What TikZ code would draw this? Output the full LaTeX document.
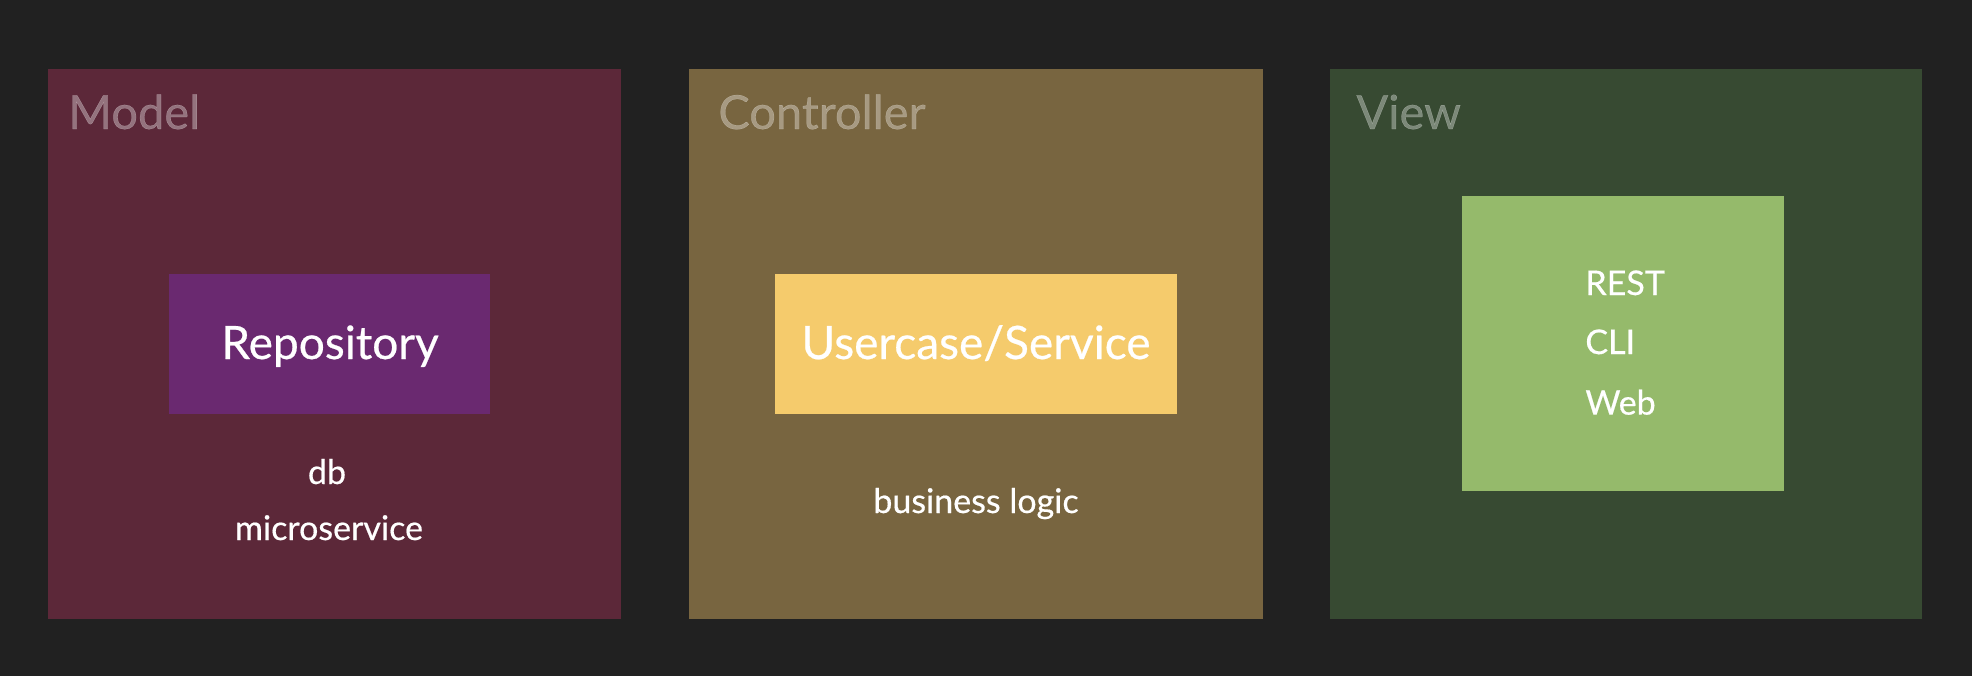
\documentclass[tikz,border=0pt]{standalone}
\usepackage{fontspec}
\setmainfont{Lato}
\newfontfamily\medfont[FakeBold=0.5]{Lato}
\definecolor{bgdark}{HTML}{212121}
\definecolor{modelbg}{HTML}{5C2839}
\definecolor{ctrlbg}{HTML}{786540}
\definecolor{viewbg}{HTML}{374A32}
\definecolor{repofill}{HTML}{6A2970}
\definecolor{svcfill}{HTML}{F5CB6C}
\definecolor{webfill}{HTML}{95BA6B}
\begin{document}
\begin{tikzpicture}[x=0.5pt,y=-0.5pt,
  panel/.style={rectangle, inner sep=0pt, outer sep=0pt, anchor=north west,
    minimum height=275pt},
  inner/.style={rectangle, inner sep=0pt, outer sep=0pt, anchor=north west},
  title/.style={anchor=base west, inner sep=0pt, text=white, text opacity=0.35,
    font=\medfont\fontsize{23.5pt}{28pt}\selectfont},
  big/.style={anchor=base, inner sep=0pt, text=white,
    font=\medfont\fontsize{23pt}{28pt}\selectfont},
  small/.style={anchor=base, inner sep=0pt, text=white,
    font=\medfont\fontsize{17pt}{20pt}\selectfont},
  smallleft/.style={small, anchor=base west}]
  % background
  \fill[bgdark] (0,0) rectangle (1972,676);
  \useasboundingbox (0,0) rectangle (1972,676);

  % three panels
  \node[panel, fill=modelbg, minimum width=286.5pt] (model) at (48,69) {};
  \node[panel, fill=ctrlbg, minimum width=287pt] (ctrl) at (689,69) {};
  \node[panel, fill=viewbg, minimum width=296pt] (view) at (1330,69) {};

  \node[title] (modeltitle) at (68,129) {Model};
  \node[title] (ctrltitle) at (718,129) {Controller};
  \node[title] (viewtitle) at (1356,129) {View};

  % Model content
  \node[inner, fill=repofill, minimum width=160.5pt, minimum height=70pt] (repo) at (169,274) {};
  \node[big] (repotext) at (330,359) {Repository};
  \node[small] (db) at (327,484) {db};
  \node[small] (micro) at (329,540) {microservice};

  % Controller content
  \node[inner, fill=svcfill, minimum width=201pt, minimum height=70pt] (svc) at (775,274) {};
  \node[big] (svctext) at (976,359) {Usercase/Service};
  \node[small] (logic) at (976,513) {business logic};

  % View content
  \node[inner, fill=webfill, minimum width=161pt, minimum height=147.5pt] (web) at (1462,196) {};
  \node[smallleft] (rest) at (1585,295) {REST};
  \node[smallleft] (cli) at (1585,354) {CLI};
  \node[smallleft] (webtext) at (1585,414.6) {Web};
\end{tikzpicture}
\end{document}
